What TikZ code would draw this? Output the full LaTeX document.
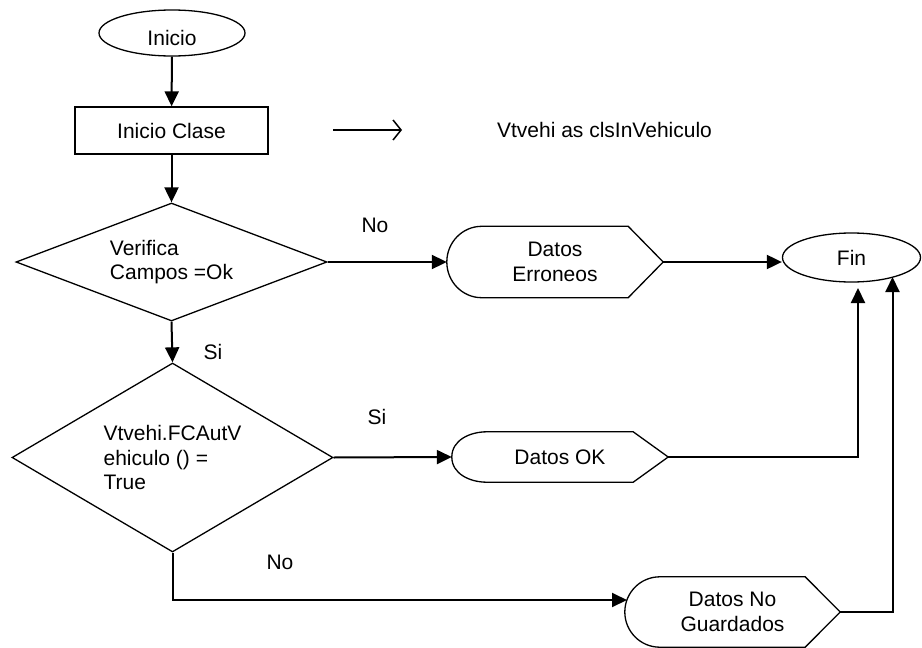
\documentclass[tikz,border=0pt]{standalone}
\usepackage{fontspec}
\setmainfont{Liberation Sans}
\usetikzlibrary{shapes.geometric,arrows.meta}
\newcommand\dispoutline[2]{%
  \draw[shapeline,line join=miter] ([xshift=#2]#1.north west) -- ([xshift=-#2]#1.north east) -- (#1.east)
    -- ([xshift=-#2]#1.south east) -- ([xshift=#2]#1.south west)
    to[out=180,in=-90] (#1.west) to[out=90,in=180] ([xshift=#2]#1.north west) -- cycle;}
\begin{document}
\begin{tikzpicture}[x=1pt,y=-1pt,
  every node/.style={font=\fontsize{21}{24.5}\selectfont},
  shapeline/.style={line width=1.3pt},
  conn/.style={line width=2pt,-{Triangle[length=15pt,width=14pt]}},
  openarrow/.style={line width=1.5pt,-{Straight Barb[length=8pt,width=20pt,line width=1.5pt]}},
  terminal/.style={ellipse,draw,shapeline,inner sep=0pt},
  procbox/.style={rectangle,draw,shapeline,inner sep=0pt},
  decision/.style={diamond,draw,shapeline,inner sep=0pt,align=left},
  disp/.style={rectangle,inner sep=0pt,align=center},
  lbl/.style={inner sep=0pt}]
\fill[white] (0,0) rectangle (922,648);
\useasboundingbox (0,0) rectangle (922,648);

% nodes
\node[terminal,minimum width=146pt,minimum height=46pt,text height=25pt,text depth=0pt] (inicio) at (172,33) {Inicio};
\node[procbox,minimum width=193pt,minimum height=47pt] (clase) at (171.5,130.5) {Inicio Clase};
\node[lbl] (vt) at (604.5,130) {Vtvehi as clsInVehiculo};
\coordinate (oa1) at (333,130);
\coordinate (oa2) at (402,130);

\node[decision,aspect=2.64,minimum width=311pt,minimum height=118pt] (d1) at (171.5,262) {Verifica\\Campos =Ok};
\node[decision,aspect=1.7,minimum width=321pt,minimum height=189pt] (d2) at (172.5,457.5) {Vtvehi.FCAutV\\ehiculo () =\\True};

\node[disp,minimum width=216pt,minimum height=71pt] (de) at (555,262) {Datos\\Erroneos};
\node[disp,minimum width=216pt,minimum height=50pt] (dok) at (560,457) {Datos OK};
\node[disp,minimum width=215pt,minimum height=70pt] (dng) at (732.5,612) {Datos No\\Guardados};
\dispoutline{de}{35pt}
\dispoutline{dok}{35pt}
\dispoutline{dng}{35pt}

\node[terminal,minimum width=138pt,minimum height=49pt] (fin) at (851.5,257.5) {Fin};

% labels
\node[lbl] (lno1) at (375,225) {No};
\node[lbl] (lsi1) at (213,352) {Si};
\node[lbl] (lsi2) at (377,417) {Si};
\node[lbl] (lno2) at (280,562) {No};

% connector end points
\coordinate (finin1) at (858,288);
\coordinate (finin2) at (892.5,277);
\coordinate (dngin) at (627,600);

% connectors
\draw[conn] (inicio) -- (clase);
\draw[conn] (clase) -- (d1);
\draw[openarrow] (oa1) -- (oa2);
\draw[conn] (d1.east) -- (de.west);
\draw[conn] (de.east) -- (de.east -| fin.west);
\draw[conn] (d1.south) -- (d2.north);
\draw[conn] (d2.east) -- (dok.west);
\draw[conn] (dok.east) -| (finin1);
\draw[conn] (dng.east) -| (finin2);
\draw[conn] (d2.south) |- (dngin);
\end{tikzpicture}
\end{document}
